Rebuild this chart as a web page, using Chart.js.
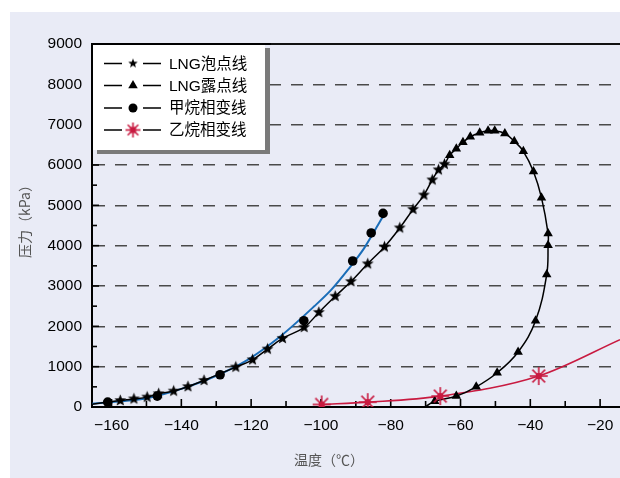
<!DOCTYPE html>
<html>
<head>
<meta charset="utf-8">
<script src="https://cdn.jsdelivr.net/npm/chart.js@4.4.1/dist/chart.umd.min.js"></script>
<style>
  html, body { margin: 0; padding: 0; background: #fff; }
  #panel { position: absolute; left: 10px; top: 12px; width: 610px; height: 466px; background: #e9ebf6; }
  #chart { position: absolute; left: 0; top: 0; }
</style>
</head>
<body>
<div id="panel"></div>
<canvas id="chart" width="620" height="478"></canvas>
<script>
// LNG bubble line (stars)
const bubbleT = [-157.5, -153.6, -149.8, -146.5, -142.2, -138.1, -133.5, -124.4, -119.6, -115.3, -111, -104.8, -100.6, -95.9, -91.4, -86.6, -81.8, -77.4, -73.6, -70.5, -68.1, -66.3, -64.6];
const bubbleP = [160, 200, 245, 330, 395, 505, 660, 990, 1170, 1435, 1700, 1975, 2345, 2745, 3110, 3550, 3970, 4440, 4900, 5255, 5630, 5880, 6020];

// LNG dew line (triangles)
const dewT = [-63.1, -61.2, -59.3, -57.2, -54.5, -52.1, -50.2, -47.3, -44.6, -42.0, -39.1, -36.8, -34.9, -34.9, -35.3, -38.5, -43.5, -49.5, -55.5, -61.2, -67.4];
const dewP = [6240, 6405, 6565, 6700, 6800, 6850, 6850, 6780, 6590, 6340, 5840, 5190, 4300, 4010, 3285, 2140, 1365, 850, 500, 270, 145];

// ends of the black envelope curve
const envStart = [-165.6, 70];
const envEnd = [-69.8, 25];

// methane phase points (circles) and its fitted blue curve
const methaneT = [-161.1, -146.9, -128.9, -104.9, -90.9, -85.6, -82.2];
const methaneP = [120, 270, 800, 2140, 3620, 4315, 4800];
const methaneCurveT = [-165.6, -155, -150, -140, -130, -121, -111.5, -102, -97, -92.3, -87.6, -82.2];
const methaneCurveP = [80, 160, 215, 450, 775, 1170, 1760, 2490, 2910, 3400, 3940, 4730];

// ethane phase points (asterisks) and line end at right edge
const ethaneT = [-99.8, -86.6, -65.8, -37.6];
const ethaneP = [62, 120, 270, 768];
const ethaneEnd = [-14.3, 1670];

const legendLabels = ["LNG泡点线", "LNG露点线", "甲烷相变线", "乙烷相变线"];
const xTitle = "温度（℃）";
const yTitle = "压力（kPa）";

const RED = "#c81a40";
const BLUE = "#1a6db8";
const FONT = "'Liberation Sans', 'Noto Sans CJK SC', sans-serif";

const pts = (t, p) => t.map((v, i) => ({ x: v, y: p[i] }));

function makeStar(r) {
  const c = document.createElement("canvas");
  c.width = c.height = Math.ceil(2 * r + 2);
  const g = c.getContext("2d");
  const cx = c.width / 2, cy = c.height / 2;
  g.beginPath();
  for (let i = 0; i < 10; i++) {
    const rr = i % 2 === 0 ? r : r * 0.42;
    const a = -Math.PI / 2 + i * Math.PI / 5;
    g.lineTo(cx + rr * Math.cos(a), cy + rr * Math.sin(a));
  }
  g.closePath();
  g.fillStyle = "#000";
  g.fill();
  return c;
}

function makeAsterisk(r) {
  const c = document.createElement("canvas");
  c.width = c.height = Math.ceil(2 * r + 2);
  const g = c.getContext("2d");
  const cx = c.width / 2, cy = c.height / 2;
  g.strokeStyle = RED;
  g.lineWidth = 1.6;
  for (let i = 0; i < 8; i++) {
    const a = i * Math.PI / 4;
    g.beginPath();
    g.moveTo(cx, cy);
    g.lineTo(cx + r * Math.cos(a), cy + r * Math.sin(a));
    g.stroke();
  }
  g.fillStyle = RED;
  g.fillRect(cx - 3, cy - 3, 6, 6);
  return c;
}

const starImg = makeStar(6.3);
const starSmall = makeStar(5);
const astImg = makeAsterisk(9);
const astSmall = makeAsterisk(7.5);

const envelope = [{ x: envStart[0], y: envStart[1] }]
  .concat(pts(bubbleT, bubbleP), pts(dewT, dewP), [{ x: envEnd[0], y: envEnd[1] }]);

const decor = {
  id: "decor",
  beforeDatasetsDraw(chart) {
    const { ctx, chartArea: a, scales: { x, y } } = chart;
    ctx.save();
    ctx.strokeStyle = "#111";
    ctx.lineWidth = 2;
    const top = y.getPixelForValue(9000);
    ctx.beginPath();
    ctx.moveTo(a.left, top);
    ctx.lineTo(a.right, top);
    ctx.stroke();
    ctx.lineWidth = 1.6;
    ctx.strokeStyle = "#000";
    x.ticks.forEach(t => {
      const px = x.getPixelForValue(t.value);
      const len = t.value % 20 === 0 ? 8 : 6;
      ctx.beginPath();
      ctx.moveTo(px, a.bottom);
      ctx.lineTo(px, a.bottom - len);
      ctx.stroke();
    });
    y.ticks.forEach(t => {
      if (t.value <= 0 || t.value >= 9000) return;
      const py = y.getPixelForValue(t.value);
      const len = t.value % 1000 === 0 ? 7 : 5;
      ctx.beginPath();
      ctx.moveTo(a.left, py);
      ctx.lineTo(a.left + len, py);
      ctx.stroke();
    });
    ctx.restore();
  },
  afterDraw(chart) {
    const { ctx, chartArea: a } = chart;
    ctx.save();
    // legend box with shadow
    const bx = a.left, by = a.top, bw = 173, bh = 106;
    ctx.fillStyle = "#7a7a7a";
    ctx.fillRect(bx + 5, by + 4, bw, bh);
    ctx.fillStyle = "#fff";
    ctx.fillRect(bx, by, bw, bh);
    ctx.strokeStyle = "#000";
    ctx.lineWidth = 2;
    ctx.beginPath();
    ctx.moveTo(bx, by + bh);
    ctx.lineTo(bx, by);
    ctx.lineTo(bx + bw + 6, by);
    ctx.stroke();
    const rows = [63.5, 85.5, 108, 130];
    ctx.lineWidth = 1.3;
    ctx.font = "15.5px " + FONT;
    ctx.textBaseline = "middle";
    rows.forEach((ry, i) => {
      ctx.strokeStyle = "#000";
      ctx.beginPath();
      ctx.moveTo(104, ry); ctx.lineTo(122, ry);
      ctx.moveTo(143, ry); ctx.lineTo(161, ry);
      ctx.stroke();
      const mx = 133;
      ctx.fillStyle = "#000";
      if (i === 0) {
        ctx.drawImage(starSmall, mx - starSmall.width / 2, ry - starSmall.height / 2);
      } else if (i === 1) {
        const r = 5.5;
        ctx.beginPath();
        ctx.moveTo(mx, ry - r);
        ctx.lineTo(mx + r * 0.866, ry + r * 0.5);
        ctx.lineTo(mx - r * 0.866, ry + r * 0.5);
        ctx.closePath();
        ctx.fill();
      } else if (i === 2) {
        ctx.beginPath();
        ctx.arc(mx, ry, 4.5, 0, Math.PI * 2);
        ctx.fill();
      } else {
        ctx.drawImage(astSmall, mx - astSmall.width / 2, ry - astSmall.height / 2);
      }
      ctx.fillStyle = "#000";
      ctx.textAlign = "left";
      ctx.fillText(legendLabels[i], 169, ry + 1);
    });
    // axis titles
    ctx.fillStyle = "#555";
    ctx.font = "14px 'Noto Sans CJK SC', sans-serif";
    ctx.textAlign = "center";
    ctx.textBaseline = "middle";
    ctx.fillText(xTitle, 329, 460);
    ctx.translate(25, 218);
    ctx.rotate(-Math.PI / 2);
    ctx.fillText(yTitle, 0, 0);
    ctx.restore();
  }
};

new Chart(document.getElementById("chart"), {
  type: "line",
  data: {
    datasets: [
      {
        label: legendLabels[2],
        data: pts(methaneT, methaneP),
        showLine: false,
        pointStyle: "circle",
        pointRadius: 4.8,
        pointBackgroundColor: "#000",
        pointBorderWidth: 0
      },
      {
        label: legendLabels[3],
        data: pts(ethaneT, ethaneP),
        showLine: false,
        pointStyle: astImg
      },
      {
        label: legendLabels[0],
        data: pts(bubbleT, bubbleP),
        showLine: false,
        pointStyle: starImg
      },
      {
        label: legendLabels[1],
        data: pts(dewT, dewP),
        showLine: false,
        pointStyle: "triangle",
        pointRadius: 5.5,
        pointBackgroundColor: "#000",
        pointBorderWidth: 0
      },
      {
        data: envelope,
        borderColor: "#000",
        borderWidth: 1.5,
        pointRadius: 0,
        tension: 0.4
      },
      {
        data: pts(methaneCurveT, methaneCurveP),
        borderColor: BLUE,
        borderWidth: 2,
        pointRadius: 0,
        cubicInterpolationMode: "monotone"
      },
      {
        data: pts(ethaneT, ethaneP).concat([{ x: ethaneEnd[0], y: ethaneEnd[1] }]),
        borderColor: RED,
        borderWidth: 1.6,
        pointRadius: 0,
        cubicInterpolationMode: "monotone"
      }
    ]
  },
  options: {
    responsive: false,
    animation: false,
    layout: { autoPadding: false, padding: { top: 44, right: 0, left: 0, bottom: 0 } },
    plugins: { legend: { display: false }, tooltip: { enabled: false } },
    scales: {
      x: {
        type: "linear",
        min: -165.6,
        max: -14.3,
        afterBuildTicks: s => { s.ticks = s.ticks.filter(t => Math.abs(t.value % 10) < 1e-6); },
        afterFit: s => { s.height = 71; s.paddingLeft = 0; s.paddingRight = 0; },
        ticks: {
          stepSize: 10,
          includeBounds: false,
          autoSkip: false,
          maxRotation: 0,
          padding: 9,
          color: "#000",
          font: { family: FONT, size: 15.5 },
          callback: v => (v % 20 === 0 ? String(v).replace("-", "\u2212") : "")
        },
        grid: { display: false, drawTicks: false },
        border: { color: "#000", width: 2 }
      },
      y: {
        min: 0,
        max: 9000,
        afterFit: s => { s.width = 92; },
        ticks: {
          stepSize: 500,
          autoSkip: false,
          padding: 10,
          color: "#000",
          font: { family: FONT, size: 15.5 },
          callback: v => (v % 1000 === 0 ? String(v) : "")
        },
        grid: {
          drawTicks: false,
          lineWidth: 1.5,
          color: c => (c.tick && c.tick.value % 1000 === 0 && c.tick.value > 0 && c.tick.value < 9000) ? "#4a4a4a" : "rgba(0,0,0,0)"
        },
        border: { color: "#000", width: 2, dash: [12, 10] }
      }
    }
  },
  plugins: [decor]
});
</script>
</body>
</html>
